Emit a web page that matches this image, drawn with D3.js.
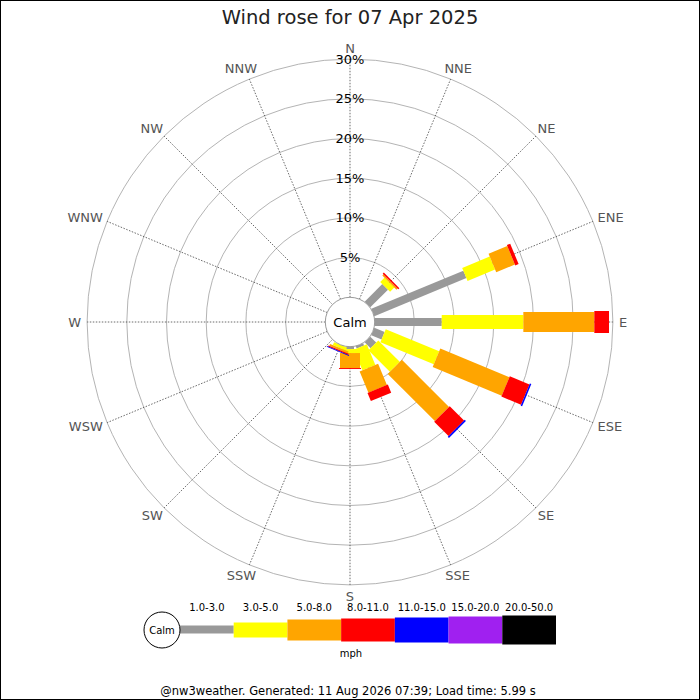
<!DOCTYPE html>
<html><head><meta charset="utf-8">
<script src="https://cdn.jsdelivr.net/npm/d3@7"></script>
<style>
html,body{margin:0;padding:0;background:#fff;}
svg{display:block;font-family:"DejaVu Sans",sans-serif;}
</style></head>
<body>
<svg id="c" width="700" height="700"></svg>
<script>
const title = "Wind rose for 07 Apr 2025";
const footer = "@nw3weather. Generated: 11 Aug 2026 07:39; Load time: 5.99 s";
const unitLabel = "mph";
const calmLabel = "Calm";
const directions = ["N","NNE","NE","ENE","E","ESE","SE","SSE","S","SSW","SW","WSW","W","WNW","NW","NNW"];
const speedBins = ["1.0-3.0","3.0-5.0","5.0-8.0","8.0-11.0","11.0-15.0","15.0-20.0","20.0-50.0"];
// percentage of time per direction for each speed bin
const spd1_3   = [0,0,3.15,12.55,8.44,1.40,1.05,0.30,0.30,0.00,0,0,0,0,0,0];
const spd3_5   = [0,0,0.75, 3.75,10.28,7.28,3.82,2.80,0.50,0.40,0,0,0,0,0,0];
const spd5_8   = [0,0,0.20, 2.55,8.94,9.42,8.40,2.90,1.88,0.25,0,0,0,0,0,0];
const spd8_11  = [0,0,0.20, 0.45,1.85,2.68,2.55,1.10,0.12,0.15,0,0,0,0,0,0];
const spd11_15 = [0,0,0,0,0,0.20,0.20,0,0,0.10,0,0,0,0,0,0];
const spd15_20 = [0,0,0,0,0,0,0,0,0,0,0,0,0,0,0,0];
const spd20_50 = [0,0,0,0,0,0,0,0,0,0,0,0,0,0,0,0];
const ringTicks = [5,10,15,20,25,30];

const seriesList = [spd1_3,spd3_5,spd5_8,spd8_11,spd11_15,spd15_20,spd20_50];
const table = directions.map((d,i)=>{
  const row = {dir:d};
  speedBins.forEach((b,j)=>row[b]=seriesList[j][i]);
  return row;
});

const svg = d3.select("#c");
const cx = 350, cy = 322;
const calmR = 24.7;
const r = d3.scaleLinear().domain([0,30]).range([calmR, 262.9]);
const ang = d3.scaleLinear().domain([0,directions.length]).range([0,360]);
const color = d3.scaleOrdinal().domain(speedBins).range(["#999999","#ffff00","#ffa500","#ff0000","#0000ff","#a020f0","#000000"]);
const barW = d3.scaleOrdinal().domain(speedBins).range([8,14,20,22,24,26,28]);

svg.append("rect").attr("x",0.5).attr("y",0.5).attr("width",699).attr("height",699)
  .attr("fill","#fff").attr("stroke","#000").attr("stroke-width",1);

svg.append("text").attr("x",350).attr("y",24).attr("text-anchor","middle")
  .attr("font-size",19.5).attr("fill","#222").text(title);

const g = svg.append("g").attr("transform",`translate(${cx},${cy})`);

// rings
g.selectAll("circle.ring").data(ringTicks).join("circle").attr("class","ring")
  .attr("r",d=>r(d)).attr("fill","none").attr("stroke","#b4b4b4").attr("stroke-width",1);

// spokes
directions.forEach((d,i)=>{
  const a = ang(i)*Math.PI/180;
  g.append("line")
    .attr("x1",Math.sin(a)*calmR).attr("y1",-Math.cos(a)*calmR)
    .attr("x2",Math.sin(a)*r(30)).attr("y2",-Math.cos(a)*r(30))
    .attr("stroke","#444").attr("stroke-width",0.8).attr("stroke-dasharray","1.5,1.5");
});

// direction labels
directions.forEach((d,i)=>{
  const a = ang(i)*Math.PI/180;
  const R = 268;
  const t = svg.append("text").attr("font-size",13).attr("fill","#555")
    .attr("text-anchor","middle").attr("dominant-baseline","central").text(d);
  const w = t.node().getComputedTextLength();
  const h = 10;
  t.attr("x", cx + Math.sin(a)*R + Math.sin(a)*(w/2+1))
   .attr("y", cy - Math.cos(a)*R - Math.cos(a)*(h/2+1));
});

// ring labels
g.selectAll("text.rl").data(ringTicks).join("text").attr("class","rl")
  .attr("x",0).attr("y",d=>-r(d)).attr("text-anchor","middle").attr("dominant-baseline","central")
  .attr("font-size",13).attr("fill","#000").text(d=>d+"%");

// bars
const stack = d3.stack().keys(speedBins);
const stacked = stack(table);
directions.forEach((d,i)=>{
  const dg = g.append("g").attr("transform",`rotate(${ang(i)-90})`);
  stacked.forEach(layer=>{
    const s = layer[i];
    if (s[1]-s[0] <= 0) return;
    const w = barW(layer.key);
    dg.append("rect").attr("x",r(s[0])).attr("width",r(s[1])-r(s[0]))
      .attr("y",-w/2).attr("height",w).attr("fill",color(layer.key));
  });
});

// calm circle
g.append("circle").attr("r",calmR).attr("fill","#fff").attr("stroke","#999").attr("stroke-width",1);
g.append("text").attr("text-anchor","middle").attr("dominant-baseline","central")
  .attr("font-size",13).attr("fill","#000").text(calmLabel);

// legend
const lx = d3.scaleBand().domain(speedBins).range([180,556]);
const ly = 629.5;
const leg = svg.append("g");
leg.selectAll("rect").data(speedBins).join("rect")
  .attr("x",d=>lx(d)).attr("width",lx.bandwidth())
  .attr("y",d=>ly-barW(d)/2+(d===speedBins[0]?0:0)).attr("height",d=>barW(d)+(speedBins.indexOf(d)>0?1:0))
  .attr("fill",d=>color(d));
leg.selectAll("text.ll").data(speedBins).join("text").attr("class","ll")
  .attr("x",d=>lx(d)+lx.bandwidth()/2).attr("y",611).attr("text-anchor","middle")
  .attr("font-size",10).attr("fill","#000").text(d=>d);
leg.append("circle").attr("cx",162).attr("cy",630).attr("r",18).attr("fill","#fff").attr("stroke","#000");
leg.append("text").attr("x",162).attr("y",630).attr("text-anchor","middle").attr("dominant-baseline","central")
  .attr("font-size",10).text(calmLabel);
leg.append("text").attr("x",351).attr("y",657).attr("text-anchor","middle").attr("font-size",10).text(unitLabel);

svg.append("text").attr("x",348).attr("y",695).attr("text-anchor","middle")
  .attr("font-size",11.5).attr("fill","#000").text(footer);
</script>
</body></html>
